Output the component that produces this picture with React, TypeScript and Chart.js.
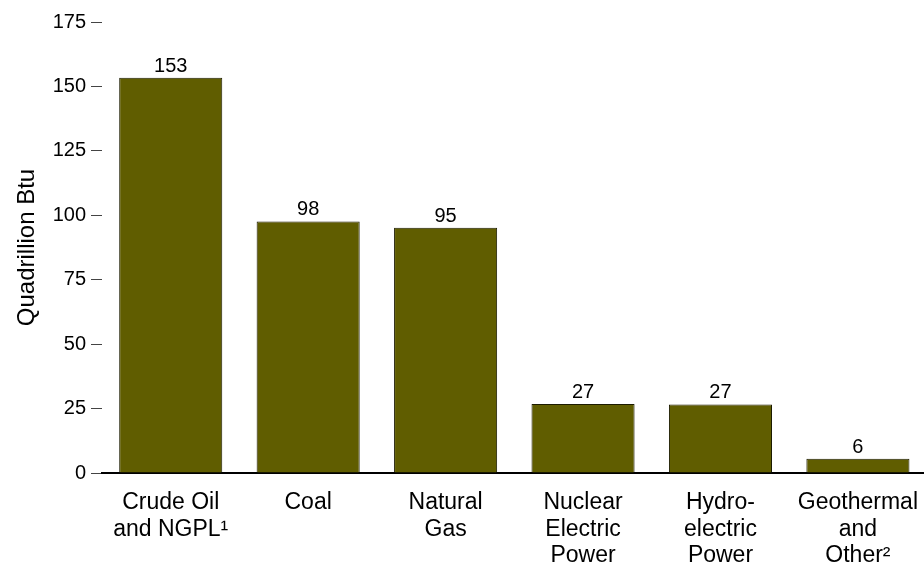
import React, { useEffect, useRef } from "react";
import { Chart, registerables } from "chart.js";

Chart.register(...registerables);

const categories: string[][] = [
  ["Crude Oil", "and NGPL¹"],
  ["Coal"],
  ["Natural", "Gas"],
  ["Nuclear", "Electric", "Power"],
  ["Hydro-", "electric", "Power"],
  ["Geothermal", "and", "Other²"],
];
const values: number[] = [153.4, 97.6, 95.2, 26.8, 26.6, 5.5];
const valueLabels: string[] = ["153", "98", "95", "27", "27", "6"];
const yTicks: number[] = [0, 25, 50, 75, 100, 125, 150, 175];
const yTitle = "Quadrillion Btu";

const FONT = "Arial, 'Liberation Sans', Helvetica, sans-serif";

const valueLabelPlugin = {
  id: "valueLabels",
  afterDatasetsDraw(chart: any) {
    const ctx = chart.ctx;
    const meta = chart.getDatasetMeta(0);
    ctx.save();
    ctx.font = `20px ${FONT}`;
    ctx.fillStyle = "#000";
    ctx.textAlign = "center";
    ctx.textBaseline = "alphabetic";
    meta.data.forEach((bar: any, i: number) => {
      ctx.fillText(valueLabels[i], bar.x, bar.y - 6);
    });
    ctx.restore();
  },
};

export default function App() {
  const ref = useRef<HTMLCanvasElement | null>(null);
  useEffect(() => {
    if (!ref.current) return;
    const chart = new Chart(ref.current, {
      type: "bar",
      data: {
        labels: categories,
        datasets: [
          {
            data: values,
            backgroundColor: "#605d00",
            borderColor: "#1c1b00",
            borderWidth: 1,
            categoryPercentage: 1,
            barPercentage: 0.75,
          },
        ],
      },
      options: {
        animation: false,
        responsive: false,
        maintainAspectRatio: false,
        layout: { padding: { top: 22, left: 0, right: 0, bottom: 0 } },
        plugins: {
          legend: { display: false },
          tooltip: { enabled: false },
        },
        scales: {
          x: {
            grid: { display: false },
            border: { display: true, color: "#000", width: 2 },
            ticks: {
              color: "#000",
              font: { size: 23, family: FONT, lineHeight: 1.14 },
              padding: 9,
              maxRotation: 0,
              autoSkip: false,
            },
            afterFit(scale: any) {
              scale.height = 90;
            },
          },
          y: {
            min: 0,
            max: 175,
            afterBuildTicks(scale: any) {
              scale.ticks = yTicks.map((v) => ({ value: v }));
            },
            grid: {
              display: true,
              drawOnChartArea: false,
              drawTicks: true,
              tickLength: 11,
              tickColor: "#444",
              lineWidth: 1,
            },
            border: { display: false },
            ticks: {
              color: "#000",
              font: { size: 20, family: FONT },
              padding: 5,
            },
            title: {
              display: true,
              text: yTitle,
              color: "#000",
              font: { size: 24, family: FONT },
              padding: { top: 13, bottom: 0 },
            },
            afterFit(scale: any) {
              scale.width = 102;
            },
          },
        },
      },
      plugins: [valueLabelPlugin],
    });
    return () => chart.destroy();
  }, []);
  return (
    <div
      style={{
        position: "fixed",
        left: 0,
        top: 0,
        width: 924,
        height: 563,
        overflow: "hidden",
        background: "#fff",
      }}
    >
      <canvas ref={ref} width={927} height={563} style={{ display: "block" }} />
    </div>
  );
}
